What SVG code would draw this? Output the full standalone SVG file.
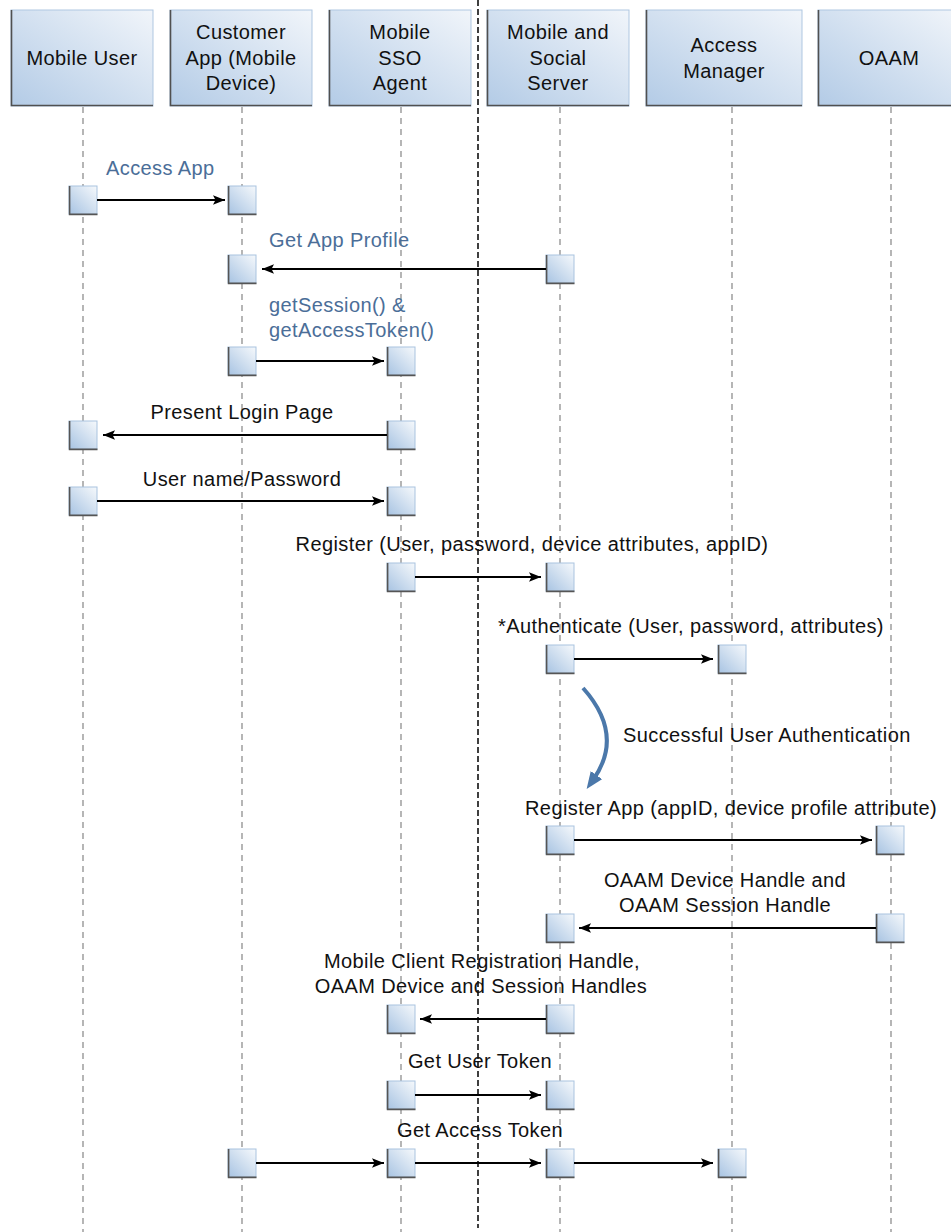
<svg xmlns="http://www.w3.org/2000/svg" xmlns:xlink="http://www.w3.org/1999/xlink" width="951" height="1232" viewBox="0 0 951 1232">
<style>
  text { font-family: "Liberation Sans", Arial, Helvetica, sans-serif; font-size: 20px; letter-spacing: 0.4px; fill: #111; }
  .blue { fill: #4b6e98; }
  .mid { text-anchor: middle; }
  .life { stroke: #8f8f8f; stroke-width: 1.3; stroke-dasharray: 6 5; fill: none; }
  .center { stroke: #000; stroke-width: 1.5; stroke-dasharray: 6 3; fill: none; }
  .head { fill: url(#gHead); stroke: #afc7e1; stroke-width: 1; }
  .edge { fill: none; stroke: #505050; stroke-width: 1.6; }
  .msg { stroke: #000; stroke-width: 2; fill: none; marker-end: url(#arr); }
  .curve { stroke: #4b78aa; stroke-width: 4; fill: none; marker-end: url(#arrBlue); }
</style>
<defs>
  <linearGradient id="gHead" x1="0" y1="1" x2="1" y2="0">
    <stop offset="0" stop-color="#b3cbe6"/>
    <stop offset="1" stop-color="#f1f5fa"/>
  </linearGradient>
  <linearGradient id="gAct" x1="0" y1="1" x2="1" y2="0">
    <stop offset="0" stop-color="#a7c3e2"/>
    <stop offset="1" stop-color="#f6f9fc"/>
  </linearGradient>
  <marker id="arr" markerUnits="userSpaceOnUse" markerWidth="13" markerHeight="10" refX="12" refY="4.75" orient="auto">
    <path d="M0,0 L12,4.75 L0,9.5 L2.5,4.75 z" fill="#000"/>
  </marker>
  <marker id="arrBlue" markerUnits="userSpaceOnUse" markerWidth="18" markerHeight="15" refX="6" refY="7" orient="auto">
    <path d="M0,0 L17,7 L0,14 z" fill="#4b78aa"/>
  </marker>
  <g id="act">
    <rect x="0" y="0" width="28" height="28" fill="url(#gAct)" stroke="#a9c3df" stroke-width="1"/>
    <path d="M0.6,0 V28.4 H28.5" fill="none" stroke="#555" stroke-width="1.6"/>
  </g>
</defs>

<rect x="0" y="0" width="951" height="1232" fill="#ffffff"/>

<g id="lifelines">
  <line class="life" x1="83" y1="107" x2="83" y2="1232"/>
  <line class="life" x1="242" y1="107" x2="242" y2="1232"/>
  <line class="life" x1="401" y1="107" x2="401" y2="1232"/>
  <line class="life" x1="560" y1="107" x2="560" y2="1232"/>
  <line class="life" x1="732" y1="107" x2="732" y2="1232"/>
  <line class="life" x1="891" y1="107" x2="891" y2="1232"/>
  <line class="center" x1="478" y1="0" x2="478" y2="1228"/>
</g>

<g id="p-mobile-user">
  <rect class="head" x="11" y="10" width="142" height="96"/>
  <path class="edge" d="M11.5,10 V105.5 H153"/>
  <text class="mid" x="82" y="65">Mobile User</text>
</g>
<g id="p-customer-app">
  <rect class="head" x="170" y="10" width="142" height="96"/>
  <path class="edge" d="M170.5,10 V105.5 H312"/>
  <text class="mid" x="241" y="39">Customer</text>
  <text class="mid" x="241" y="65">App (Mobile</text>
  <text class="mid" x="241" y="90">Device)</text>
</g>
<g id="p-mobile-sso">
  <rect class="head" x="329" y="10" width="142" height="96"/>
  <path class="edge" d="M329.5,10 V105.5 H471"/>
  <text class="mid" x="400" y="39">Mobile</text>
  <text class="mid" x="400" y="65">SSO</text>
  <text class="mid" x="400" y="90">Agent</text>
</g>
<g id="p-mobile-social">
  <rect class="head" x="487" y="10" width="142" height="96"/>
  <path class="edge" d="M487.5,10 V105.5 H629"/>
  <text class="mid" x="558" y="39">Mobile and</text>
  <text class="mid" x="558" y="65">Social</text>
  <text class="mid" x="558" y="90">Server</text>
</g>
<g id="p-access-manager">
  <rect class="head" x="646" y="10" width="156" height="96"/>
  <path class="edge" d="M646.5,10 V105.5 H802"/>
  <text class="mid" x="724" y="52">Access</text>
  <text class="mid" x="724" y="78">Manager</text>
</g>
<g id="p-oaam">
  <rect class="head" x="818" y="10" width="142" height="96"/>
  <path class="edge" d="M818.5,10 V105.5 H960"/>
  <text class="mid" x="889" y="65">OAAM</text>
</g>

<g id="activations">
  <use xlink:href="#act" x="69" y="186"/>
  <use xlink:href="#act" x="228" y="186"/>
  <use xlink:href="#act" x="228" y="255"/>
  <use xlink:href="#act" x="546" y="255"/>
  <use xlink:href="#act" x="228" y="347"/>
  <use xlink:href="#act" x="387" y="347"/>
  <use xlink:href="#act" x="69" y="421"/>
  <use xlink:href="#act" x="387" y="421"/>
  <use xlink:href="#act" x="69" y="487"/>
  <use xlink:href="#act" x="387" y="487"/>
  <use xlink:href="#act" x="387" y="563"/>
  <use xlink:href="#act" x="546" y="563"/>
  <use xlink:href="#act" x="546" y="645"/>
  <use xlink:href="#act" x="718" y="645"/>
  <use xlink:href="#act" x="546" y="826"/>
  <use xlink:href="#act" x="876" y="826"/>
  <use xlink:href="#act" x="546" y="914"/>
  <use xlink:href="#act" x="876" y="914"/>
  <use xlink:href="#act" x="387" y="1005"/>
  <use xlink:href="#act" x="546" y="1005"/>
  <use xlink:href="#act" x="387" y="1081"/>
  <use xlink:href="#act" x="546" y="1081"/>
  <use xlink:href="#act" x="228" y="1149"/>
  <use xlink:href="#act" x="387" y="1149"/>
  <use xlink:href="#act" x="546" y="1149"/>
  <use xlink:href="#act" x="718" y="1149"/>
</g>

<g id="connectors">
  <line class="msg" x1="97" y1="200" x2="225" y2="200"/>
  <line class="msg" x1="546" y1="269" x2="262" y2="269"/>
  <line class="msg" x1="256" y1="361" x2="384" y2="361"/>
  <line class="msg" x1="387" y1="435" x2="103" y2="435"/>
  <line class="msg" x1="97" y1="501" x2="384" y2="501"/>
  <line class="msg" x1="415" y1="577" x2="541" y2="577"/>
  <line class="msg" x1="574" y1="659" x2="713" y2="659"/>
  <path class="curve" d="M583,688 Q625,735 593,780"/>
  <line class="msg" x1="574" y1="840" x2="872" y2="840"/>
  <line class="msg" x1="876" y1="928" x2="579" y2="928"/>
  <line class="msg" x1="546" y1="1019" x2="420" y2="1019"/>
  <line class="msg" x1="415" y1="1095" x2="541" y2="1095"/>
  <line class="msg" x1="256" y1="1163" x2="384" y2="1163"/>
  <line class="msg" x1="415" y1="1163" x2="541" y2="1163"/>
  <line class="msg" x1="574" y1="1163" x2="713" y2="1163"/>
</g>

<g id="labels">
  <text class="blue" x="106" y="175">Access App</text>
  <text class="blue" x="269" y="247">Get App Profile</text>
  <text class="blue" x="269" y="312">getSession() &amp;</text>
  <text class="blue" x="269" y="337">getAccessToken()</text>
  <text class="mid" x="242" y="419">Present Login Page</text>
  <text class="mid" x="242" y="486">User name/Password</text>
  <text class="mid" x="532" y="551">Register (User, password, device attributes, appID)</text>
  <text class="mid" x="691" y="633">*Authenticate (User, password, attributes)</text>
  <text x="623" y="742">Successful User Authentication</text>
  <text class="mid" x="731" y="815">Register App (appID, device profile attribute)</text>
  <text class="mid" x="725" y="887">OAAM Device Handle and</text>
  <text class="mid" x="725" y="912">OAAM Session Handle</text>
  <text class="mid" x="482" y="968">Mobile Client Registration Handle,</text>
  <text class="mid" x="481" y="993">OAAM Device and Session Handles</text>
  <text class="mid" x="480" y="1068">Get User Token</text>
  <text class="mid" x="480" y="1137">Get Access Token</text>
</g>
</svg>
